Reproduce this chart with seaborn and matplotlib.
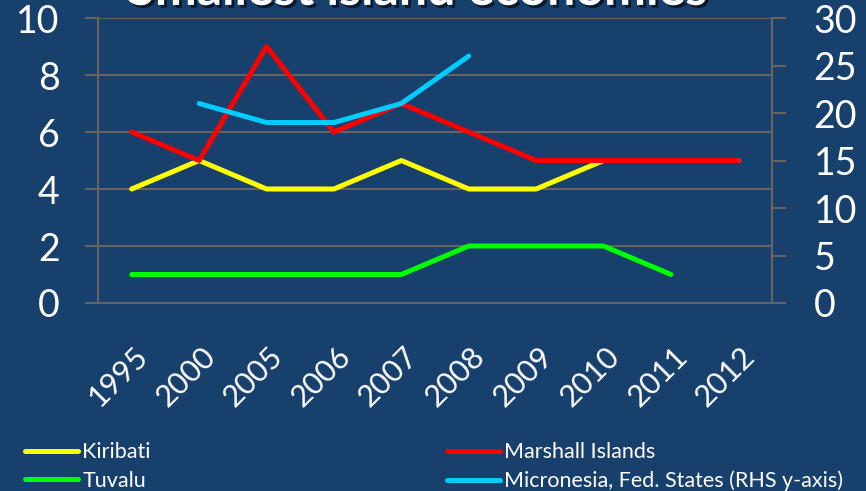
import numpy as np
import pandas as pd
import seaborn as sns
import matplotlib
matplotlib.use("Agg")
import matplotlib.pyplot as plt
import matplotlib.patheffects as pe
from matplotlib.transforms import ScaledTranslation

# chart data
years = ["1995", "2000", "2005", "2006", "2007", "2008", "2009", "2010", "2011", "2012"]
kiribati = [4, 5, 4, 4, 5, 4, 4, 5, 5, 5]
marshall = [6, 5, 9, 6, 7, 6, 5, 5, 5, 5]
tuvalu = [1, 1, 1, 1, 1, 2, 2, 2, 1, np.nan]
micronesia = [np.nan, 21, 19, 19, 21, 26, np.nan, np.nan, np.nan, np.nan]

bg = "#18406c"
grey = "#646464"

sns.set_style("dark")
plt.rcParams["font.family"] = ["Lato", "DejaVu Sans"]

fig = plt.figure(figsize=(8.66, 4.91), dpi=100, facecolor=bg)
ax = fig.add_axes([0.1132, 0.3829, 0.7783, 0.5804])
ax.set_facecolor(bg)
ax2 = ax.twinx()

pos = np.arange(len(years))
df = pd.DataFrame({"pos": pos, "Kiribati": kiribati, "Marshall Islands": marshall,
                   "Tuvalu": tuvalu, "Micronesia": micronesia})

lw = 3.6
sns.lineplot(data=df, x="pos", y="Kiribati", color="#ffff00", linewidth=lw, ax=ax,
             label="Kiribati", solid_capstyle="round", legend=False)
sns.lineplot(data=df, x="pos", y="Tuvalu", color="#00ff00", linewidth=lw, ax=ax,
             label="Tuvalu", solid_capstyle="round", legend=False)
sns.lineplot(data=df, x="pos", y="Marshall Islands", color="#ff0000", linewidth=lw, ax=ax,
             label="Marshall Islands", solid_capstyle="round", legend=False)
sns.lineplot(data=df, x="pos", y="Micronesia", color="#00ccff", linewidth=lw, ax=ax2,
             label="Micronesia, Fed. States (RHS y-axis)", solid_capstyle="round", legend=False)

ax.set_xlim(-0.5, len(years) - 0.5)
ax.set_ylim(0, 10)
ax2.set_ylim(0, 30)
ax.set_yticks(range(0, 11, 2))
ax2.set_yticks(range(0, 31, 5))
ax.set_xlabel("")
ax.set_ylabel("")
ax2.set_ylabel("")

# gridlines
ax.grid(False)
ax2.grid(False)
ax.yaxis.grid(True, color=grey, linewidth=1.5)
ax.set_axisbelow(True)

for a in (ax, ax2):
    for s in a.spines.values():
        s.set_color(grey)
        s.set_linewidth(1.5)
    a.spines["top"].set_visible(False)
ax2.spines["left"].set_visible(False)
ax2.spines["bottom"].set_visible(False)

# x ticks: labels at category centres, tick marks between categories
ax.set_xticks(pos)
ax.set_xticklabels(years, rotation=45, ha="right", va="top", rotation_mode="anchor", fontsize=22, color="white")
ax.set_xticks(np.arange(-0.5, len(years)), minor=True)
ax.tick_params(axis="x", which="major", length=0, pad=28)
ax.tick_params(axis="x", which="minor", length=8, width=1.5, color=grey, direction="out")
offset = ScaledTranslation(2 / 100, 0, fig.dpi_scale_trans)
for lab in ax.get_xticklabels():
    lab.set_transform(lab.get_transform() + offset)

ax.tick_params(axis="y", which="major", length=9.5, width=1.5, color=grey, direction="out",
               labelsize=27, labelcolor="white", pad=18, left=True)
ax2.tick_params(axis="y", which="major", length=10, width=1.5, color=grey, direction="out",
                labelsize=27, labelcolor="white", pad=20, right=True)

# title, cut off at the top
fig.text(0.4815, 0.99, "Smallest island economies", ha="center", va="baseline",
         fontsize=36, fontweight="bold", color="white",
         path_effects=[pe.withSimplePatchShadow(offset=(2, -2), shadow_rgbFace="black", alpha=0.6)])

h1, l1 = ax.get_legend_handles_labels()
h2, l2 = ax2.get_legend_handles_labels()
handles = [h1[0], h1[1], h1[2], h2[0]]
labels = [l1[0], l1[1], l1[2], l2[0]]
leg = fig.legend(handles, labels, ncol=2, loc="lower left", bbox_to_anchor=(0.006, -0.04),
                 frameon=False, fontsize=15.5, labelcolor="white", handlelength=2.46,
                 handletextpad=0.22, columnspacing=13.75, labelspacing=0.4)
for line in leg.get_lines():
    line.set_solid_capstyle("round")
    line.set_linewidth(lw)

fig.savefig("out.png", dpi=100, facecolor=bg)
